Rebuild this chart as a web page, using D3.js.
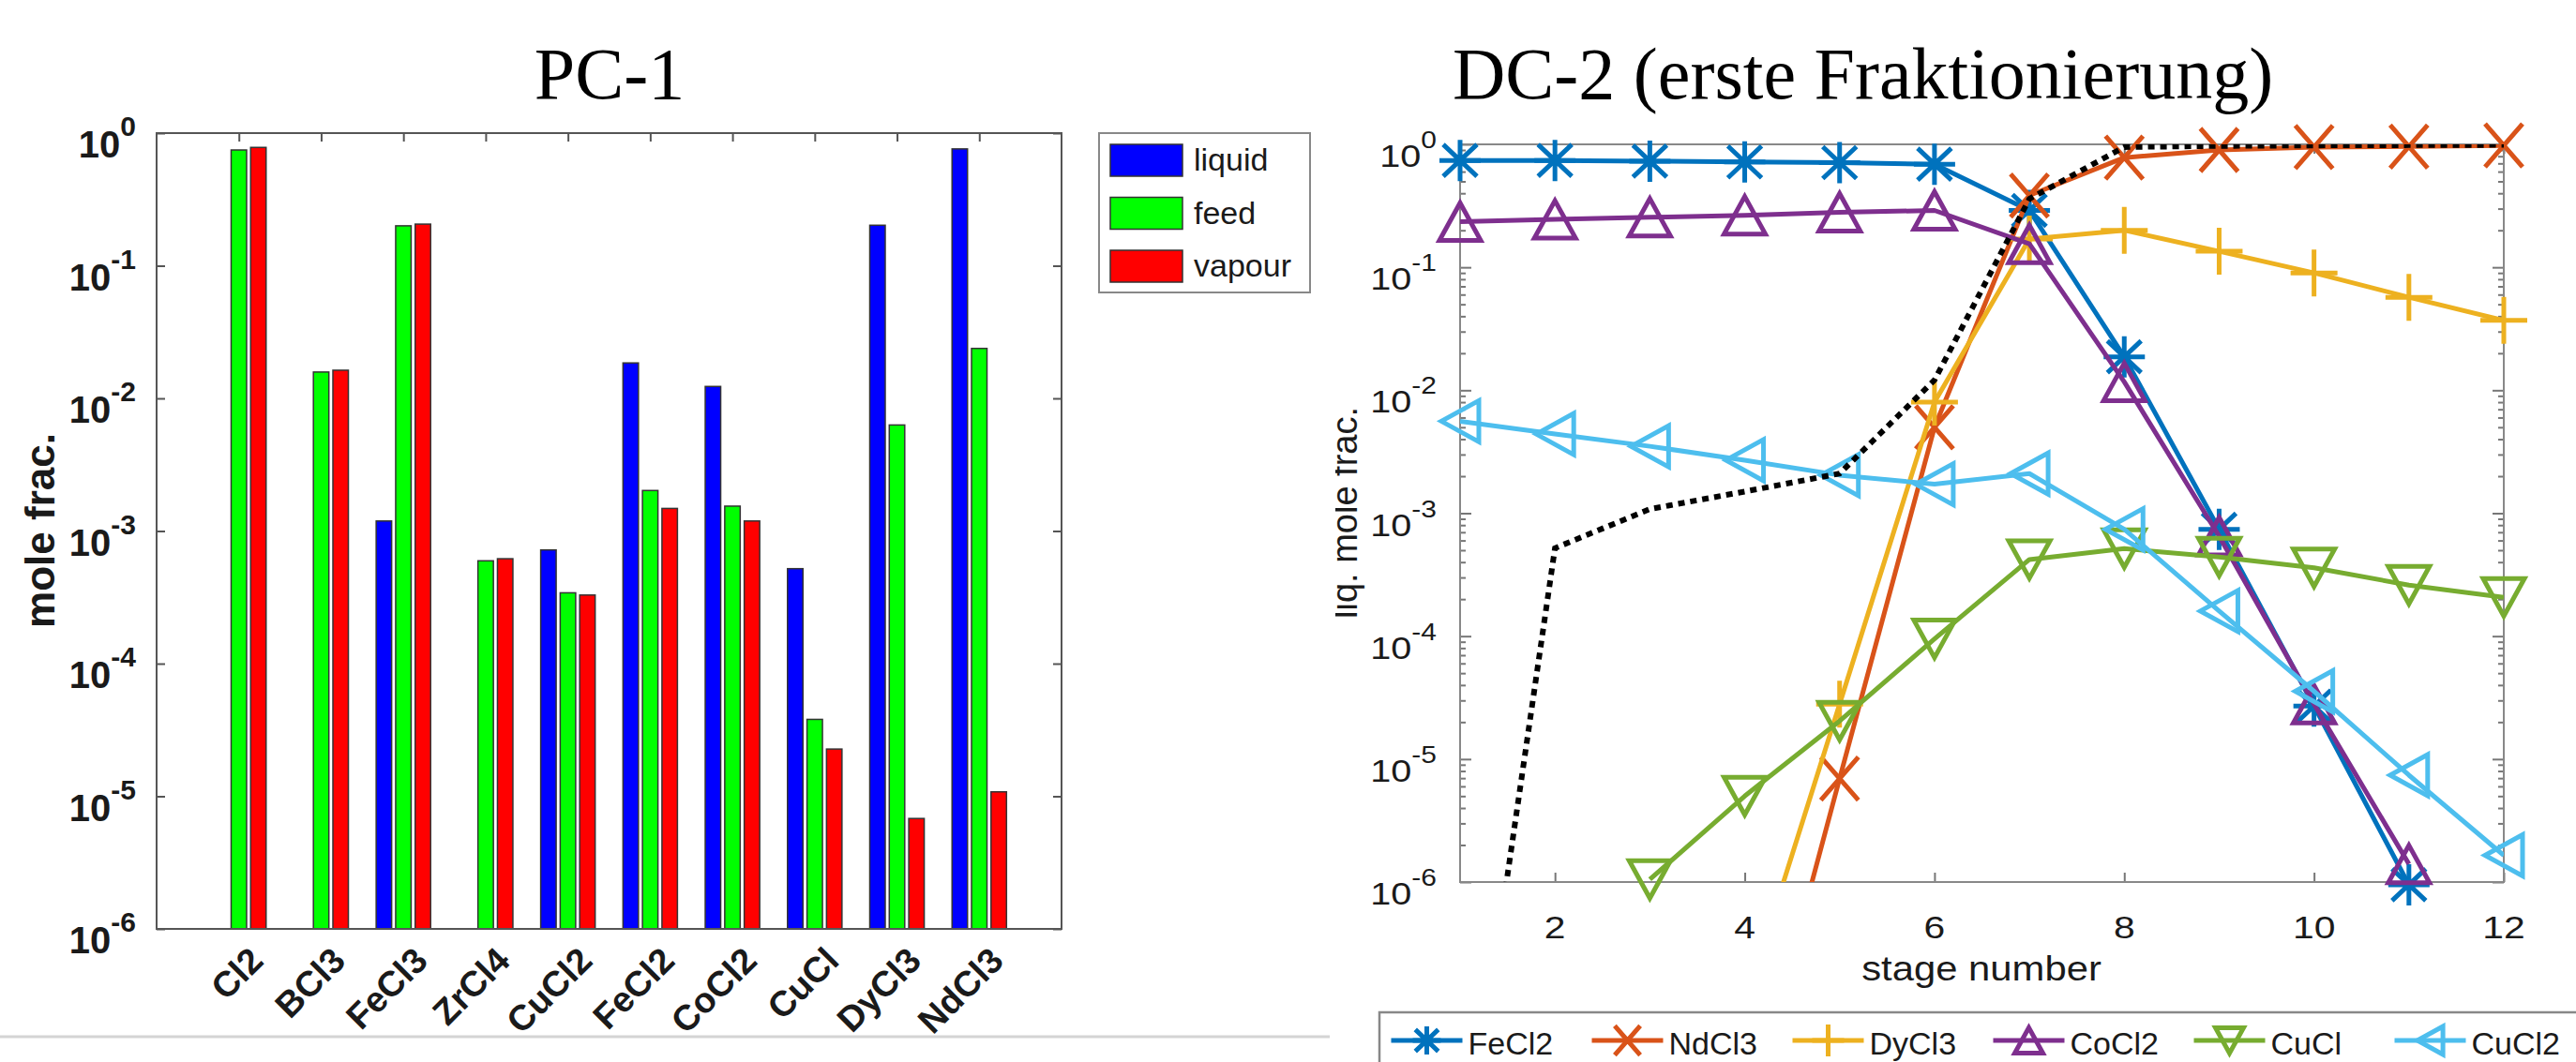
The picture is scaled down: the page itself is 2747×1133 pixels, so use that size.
<!DOCTYPE html>
<html>
<head>
<meta charset="utf-8">
<script src="https://cdn.jsdelivr.net/npm/d3@7"></script>
<style>
  body { margin: 0; background: #fff; }
  svg text { font-family: "Liberation Sans", Arial, Helvetica, sans-serif; fill: #1a1a1a; }
  .title { font-family: "Liberation Serif", "Times New Roman", serif; fill: #000; }
</style>
</head>
<body>
<svg id="fig" width="2747" height="1133"></svg>
<script>
// PC-1: mole fractions per species
var species = ["Cl2", "BCl3", "FeCl3", "ZrCl4", "CuCl2", "FeCl2", "CoCl2", "CuCl", "DyCl3", "NdCl3"];
var liquid = [null, null, 1.19e-3, null, 7.2e-4, 0.0185, 0.0123, 5.2e-4, 0.202, 0.76];
var feed   = [0.746, 0.0158, 0.200, 5.96e-4, 3.42e-4, 2.02e-3, 1.54e-3, 3.8e-5, 6.3e-3, 0.0238];
var vapour = [0.78, 0.0163, 0.206, 6.18e-4, 3.29e-4, 1.48e-3, 1.19e-3, 2.27e-5, 6.8e-6, 1.08e-5];

// DC-2: liquid mole fraction per stage
var stages = [1, 2, 3, 4, 5, 6, 7, 8, 9, 10, 11, 12];
var feCl2 = [0.74, 0.74, 0.73, 0.72, 0.71, 0.69, 0.29, 0.0187, 7.4e-4, 2.7e-5, 9.5e-7, null];
var ndCl3 = [null, null, null, 9e-9, 6.95e-6, 5.0e-3, 0.384, 0.78, 0.90, 0.95, 0.96, 0.98];
var dyCl3 = [null, null, null, 1e-7, 2.8e-5, 8.0e-3, 0.17, 0.20, 0.135, 0.090, 0.057, 0.037];
var coCl2 = [0.235, 0.245, 0.255, 0.265, 0.28, 0.29, 0.155, 0.0117, 6.5e-4, 2.8e-5, 1.4e-6, null];
var cuCl  = [null, null, 1.05e-6, 5.0e-6, 2.04e-5, 9.5e-5, 4.2e-4, 5.15e-4, 4.4e-4, 3.6e-4, 2.6e-4, 2.07e-4];
var cuCl2 = [5.6e-3, 4.4e-3, 3.5e-3, 2.7e-3, 2.04e-3, 1.72e-3, 2.1e-3, 7.4e-4, 1.6e-4, 3.56e-5, 7.4e-6, 1.65e-6];
var dotted = [2.5e-9, 5.2e-4, 1.08e-3, 1.5e-3, 2.1e-3, 0.0121, 0.36, 0.95, 0.97, 0.98, 0.985, 0.99];

var decades = [1e-6, 1e-5, 1e-4, 1e-3, 1e-2, 1e-1, 1];

var svg = d3.select("#fig");

function cleanAxis(g, color) {
    g.select(".domain").remove();
    g.selectAll(".tick line").attr("stroke", color).attr("stroke-width", 2);
}

function powLabel(sel, big, small, rise) {
    sel.each(function(d) {
        var t = d3.select(this);
        t.append("tspan").text("10");
        t.append("tspan").attr("dy", -rise).attr("font-size", small)
            .text(Math.round(Math.log10(d)));
    });
}

// ================= left: PC-1 =================
var xb = d3.scaleLinear().domain([0, 11]).range([167, 1132]);
var yb = d3.scaleLog().domain([1e-6, 1]).range([991, 142]);
var barSeries = [
    {name: "liquid", values: liquid, color: "#0000ff"},
    {name: "feed", values: feed, color: "#00ff00"},
    {name: "vapour", values: vapour, color: "#ff0000"}
];
var slot = 0.237, barW = 0.188;
var gl = svg.append("g");

gl.append("text").attr("class", "title").attr("x", 650).attr("y", 105)
    .attr("text-anchor", "middle").attr("font-size", 78).text("PC-1");

// ticks (inward) on all four sides
var catTicks = d3.range(1, 11);
gl.append("g").attr("transform", "translate(0,991)")
    .call(d3.axisBottom(xb).tickValues(catTicks).tickSize(-9).tickFormat(""))
    .call(cleanAxis, "#555");
gl.append("g").attr("transform", "translate(0,142)")
    .call(d3.axisTop(xb).tickValues(catTicks).tickSize(-9).tickFormat(""))
    .call(cleanAxis, "#555");
gl.append("g").attr("transform", "translate(167,0)")
    .call(d3.axisLeft(yb).tickValues(decades).tickSize(-9).tickFormat(""))
    .call(cleanAxis, "#555");
gl.append("g").attr("transform", "translate(1132,0)")
    .call(d3.axisRight(yb).tickValues(decades).tickSize(-9).tickFormat(""))
    .call(cleanAxis, "#555");

barSeries.forEach(function(s, si) {
    var pts = s.values.map(function(v, i) { return {v: v, i: i}; }).filter(function(d) { return d.v; });
    gl.append("g").selectAll("rect").data(pts).enter().append("rect")
        .attr("x", function(d) { return xb(d.i + 1 + (si - 1) * slot - barW / 2); })
        .attr("width", xb(barW) - xb(0))
        .attr("y", function(d) { return yb(d.v); })
        .attr("height", function(d) { return yb(1e-6) - yb(d.v); })
        .attr("fill", s.color)
        .attr("stroke", "#333").attr("stroke-width", 1.5);
});

gl.append("rect").attr("x", 167).attr("y", 142).attr("width", 965).attr("height", 849)
    .attr("fill", "none").attr("stroke", "#555").attr("stroke-width", 2);

gl.append("g").selectAll("text").data(decades).enter().append("text")
    .attr("x", 145).attr("y", function(d) { return yb(d) + 26; })
    .attr("text-anchor", "end").attr("font-weight", "bold").attr("font-size", 40)
    .call(powLabel, 40, 30, 23);

gl.append("g").selectAll("text").data(species).enter().append("text")
    .attr("transform", function(d, i) { return "translate(" + (xb(i + 1) + 28) + ",1027) rotate(-45)"; })
    .attr("text-anchor", "end").attr("font-weight", "bold").attr("font-size", 38)
    .text(function(d) { return d; });

gl.append("text").attr("transform", "translate(58,566) rotate(-90)")
    .attr("text-anchor", "middle").attr("font-weight", "bold").attr("font-size", 44)
    .text("mole frac.");

// legend
var lg = gl.append("g");
lg.append("rect").attr("x", 1172).attr("y", 142).attr("width", 225).attr("height", 170)
    .attr("fill", "#fff").attr("stroke", "#888").attr("stroke-width", 2);
var li = lg.selectAll("g.item").data(barSeries).enter().append("g")
    .attr("transform", function(d, i) { return "translate(0," + (i * 56.5) + ")"; });
li.append("rect").attr("x", 1184).attr("y", 154).attr("width", 77).attr("height", 34)
    .attr("fill", function(d) { return d.color; }).attr("stroke", "#333").attr("stroke-width", 1.5);
li.append("text").attr("x", 1273).attr("y", 182).attr("font-size", 34)
    .text(function(d) { return d.name; });

// separator line under the left figure
gl.append("line").attr("x1", 0).attr("x2", 1418).attr("y1", 1106).attr("y2", 1106)
    .attr("stroke", "#d4d4d4").attr("stroke-width", 3);

// ================= right: DC-2 =================
var xs = d3.scaleLinear().domain([1, 12]).range([1557, 2670]);
var ys = d3.scaleLog().domain([1e-6, 1]).range([941, 154]);
var lineSeries = [
    {name: "FeCl2", values: feCl2, color: "#0072BD", marker: "*"},
    {name: "NdCl3", values: ndCl3, color: "#D95319", marker: "x"},
    {name: "DyCl3", values: dyCl3, color: "#EDB120", marker: "+"},
    {name: "CoCl2", values: coCl2, color: "#7E2F8E", marker: "^"},
    {name: "CuCl", values: cuCl, color: "#77AC30", marker: "v"},
    {name: "CuCl2", values: cuCl2, color: "#4DBEEE", marker: "<"}
];
var gr = svg.append("g");

gr.append("text").attr("class", "title").attr("x", 1549).attr("y", 105)
    .attr("font-size", 78).text("DC-2 (erste Fraktionierung)");

var minor = [];
decades.slice(0, 6).forEach(function(d) { for (var m = 2; m <= 9; m++) minor.push(m * d); });
var stageTicks = [2, 4, 6, 8, 10, 12];

gr.append("g").attr("transform", "translate(0,941)")
    .call(d3.axisBottom(xs).tickValues(stageTicks).tickSize(-10).tickFormat(""))
    .call(cleanAxis, "#777");
gr.append("g").attr("transform", "translate(0,154)")
    .call(d3.axisTop(xs).tickValues(stageTicks).tickSize(-10).tickFormat(""))
    .call(cleanAxis, "#777");
[[1557, d3.axisLeft], [2670, d3.axisRight]].forEach(function(a) {
    gr.append("g").attr("transform", "translate(" + a[0] + ",0)")
        .call(a[1](ys).tickValues(decades).tickSize(-12).tickFormat(""))
        .call(cleanAxis, "#777");
    gr.append("g").attr("transform", "translate(" + a[0] + ",0)")
        .call(a[1](ys).tickValues(minor).tickSize(-6).tickFormat(""))
        .call(cleanAxis, "#777");
});

gr.append("rect").attr("x", 1557).attr("y", 154).attr("width", 1113).attr("height", 787)
    .attr("fill", "none").attr("stroke", "#888").attr("stroke-width", 2);

gr.append("g").selectAll("text").data(decades).enter().append("text")
    .attr("transform", function(d) { return "translate(1532," + (ys(d) + 24) + ") scale(1.2,1)"; })
    .attr("text-anchor", "end").attr("font-size", 33)
    .call(powLabel, 33, 25, 20);

gr.append("g").selectAll("text").data(stageTicks).enter().append("text")
    .attr("transform", function(d) { return "translate(" + xs(d) + ",1001) scale(1.2,1)"; })
    .attr("text-anchor", "middle").attr("font-size", 34)
    .text(function(d) { return d; });

gr.append("text").attr("transform", "translate(2113,1046) scale(1.13,1)")
    .attr("text-anchor", "middle").attr("font-size", 37).text("stage number");

// y label, left edge cut off as in the source image
svg.append("clipPath").attr("id", "ylabclip").append("rect")
    .attr("x", 1424).attr("y", 300).attr("width", 60).attr("height", 500);
gr.append("g").attr("clip-path", "url(#ylabclip)")
  .append("text")
    .attr("transform", "translate(1447,547) rotate(-90)")
    .attr("text-anchor", "middle").attr("font-size", 38).text("liq. mole frac.");

svg.append("clipPath").attr("id", "plotclip").append("rect")
    .attr("x", 1557).attr("y", 154).attr("width", 1113).attr("height", 787);

function markerPath(type, k) {
    function p(x, y) { return (x * k) + "," + (y * k); }
    switch (type) {
        case "*": return "M" + p(0, -22) + "L" + p(0, 22) + "M" + p(-22, 0) + "L" + p(22, 0) +
                         "M" + p(-18, -17) + "L" + p(18, 17) + "M" + p(-18, 17) + "L" + p(18, -17);
        case "x": return "M" + p(-20, -23) + "L" + p(20, 23) + "M" + p(-20, 23) + "L" + p(20, -23);
        case "+": return "M" + p(0, -25) + "L" + p(0, 25) + "M" + p(-25, 0) + "L" + p(25, 0);
        case "^": return "M" + p(0, -20) + "L" + p(22, 20) + "L" + p(-22, 20) + "Z";
        case "v": return "M" + p(0, 20) + "L" + p(22, -20) + "L" + p(-22, -20) + "Z";
        case "<": return "M" + p(-20, 0) + "L" + p(20, -22) + "L" + p(20, 22) + "Z";
    }
}

var line = d3.line()
    .defined(function(d) { return d.v != null; })
    .x(function(d) { return xs(d.s); })
    .y(function(d) { return ys(d.v); });

function toPts(vals) { return vals.map(function(v, i) { return {s: stages[i], v: v}; }); }

lineSeries.forEach(function(s) {
    var pts = toPts(s.values);
    gr.append("path").datum(pts).attr("clip-path", "url(#plotclip)")
        .attr("d", line).attr("fill", "none").attr("stroke", s.color)
        .attr("stroke-width", 5).attr("stroke-linejoin", "round");
    gr.append("g").selectAll("path").data(pts.filter(function(d) { return d.v != null && d.v >= 9e-7; }))
        .enter().append("path")
        .attr("transform", function(d) { return "translate(" + xs(d.s) + "," + ys(d.v) + ")"; })
        .attr("d", markerPath(s.marker, 1)).attr("fill", "none").attr("stroke", s.color)
        .attr("stroke-width", 5).attr("stroke-linejoin", "miter");
});

gr.append("path").datum(toPts(dotted)).attr("clip-path", "url(#plotclip)")
    .attr("d", line).attr("fill", "none").attr("stroke", "#000")
    .attr("stroke-width", 6).attr("stroke-dasharray", "7,6");

// legend along the bottom
var bl = gr.append("g");
bl.append("rect").attr("x", 1471).attr("y", 1080).attr("width", 1300).attr("height", 80)
    .attr("fill", "#fff").attr("stroke", "#888").attr("stroke-width", 2.5);
var bi = bl.selectAll("g.item").data(lineSeries).enter().append("g")
    .attr("transform", function(d, i) { return "translate(" + (1483.5 + i * 214) + ",1110)"; });
bi.append("line").attr("x1", 0).attr("x2", 76).attr("y1", 0).attr("y2", 0)
    .attr("stroke", function(d) { return d.color; }).attr("stroke-width", 5);
bi.append("path").attr("transform", "translate(38,0)")
    .attr("d", function(d) { return markerPath(d.marker, 0.68); })
    .attr("fill", "none").attr("stroke", function(d) { return d.color; }).attr("stroke-width", 5);
bi.append("text").attr("x", 82).attr("y", 15).attr("font-size", 34)
    .text(function(d) { return d.name; });
</script>
</body>
</html>
